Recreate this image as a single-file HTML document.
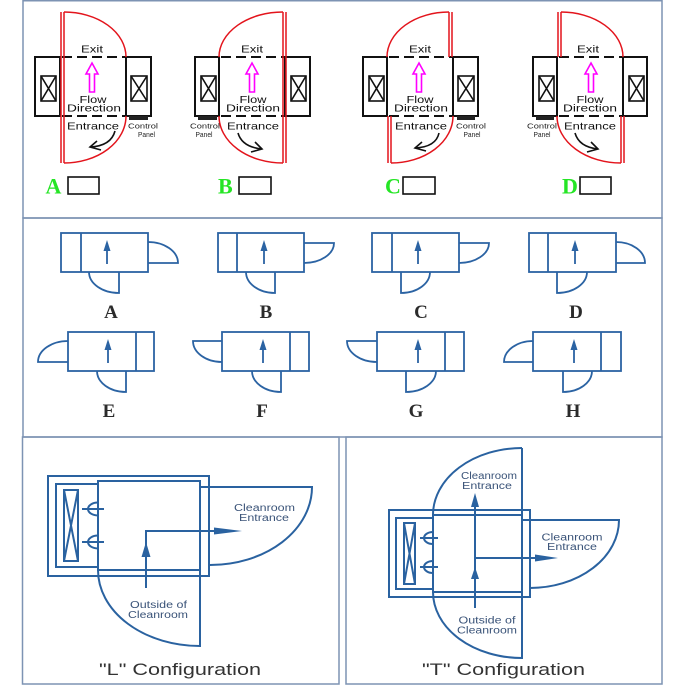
<!DOCTYPE html>
<html><head><meta charset="utf-8"><style>
html,body{margin:0;padding:0;background:#fff;}
svg{display:block;}
.ft{font-family:"Liberation Sans",sans-serif;}
</style></head><body>
<svg width="685" height="685" viewBox="0 0 685 685" xmlns="http://www.w3.org/2000/svg">
<rect x="0" y="0" width="685" height="685" fill="#fff"/>
<!-- panel borders -->
<g fill="none" stroke="#7d93b3" stroke-width="1.5">
<rect x="23" y="0.75" width="639" height="217.25"/>
<rect x="23" y="218" width="639" height="219"/>
<rect x="22.5" y="437" width="316.5" height="247"/>
<rect x="346" y="437" width="316" height="247"/>
</g>

<!-- ================= TOP PANEL ================= -->
<g fill="none" stroke="#111" stroke-width="2">
<!-- A -->
<rect x="35" y="57" width="25" height="59"/><rect x="126" y="57" width="25" height="59"/>
<!-- B -->
<rect x="195" y="57" width="24" height="59"/><rect x="285" y="57" width="25" height="59"/>
<!-- C -->
<rect x="363" y="57" width="24" height="59"/><rect x="453" y="57" width="25" height="59"/>
<!-- D -->
<rect x="533" y="57" width="24" height="59"/><rect x="623" y="57" width="24" height="59"/>
</g>
<g fill="none" stroke="#111" stroke-width="1.6">
<!-- X boxes -->
<rect x="41" y="76" width="15" height="25"/><path d="M41,76L56,101M56,76L41,101"/>
<rect x="131" y="76" width="16" height="25"/><path d="M131,76L147,101M147,76L131,101"/>
<rect x="201" y="76" width="15" height="25"/><path d="M201,76L216,101M216,76L201,101"/>
<rect x="291" y="76" width="15" height="25"/><path d="M291,76L306,101M306,76L291,101"/>
<rect x="369" y="76" width="15" height="25"/><path d="M369,76L384,101M384,76L369,101"/>
<rect x="458" y="76" width="16" height="25"/><path d="M458,76L474,101M474,76L458,101"/>
<rect x="539" y="76" width="15" height="25"/><path d="M539,76L554,101M554,76L539,101"/>
<rect x="629" y="76" width="15" height="25"/><path d="M629,76L644,101M644,76L629,101"/>
</g>
<g fill="none" stroke="#111" stroke-width="2" stroke-dasharray="10,5">
<path d="M62,57H126M62,116H126"/>
<path d="M221,57H285M221,116H285"/>
<path d="M389,57H453M389,116H453"/>
<path d="M559,57H623M559,116H623"/>
</g>
<!-- red doors -->
<g fill="none" stroke="#e3141c" stroke-width="1.5">
<!-- A -->
<path d="M61,12V163M64,12V163"/>
<path d="M64,12A62,45 0 0 1 126,57"/>
<path d="M126,116A62,47 0 0 1 64,163"/>
<!-- B -->
<path d="M283,12V163M286,12V163"/>
<path d="M283,12A64,45 0 0 0 219,57"/>
<path d="M219,116A64,47 0 0 0 283,163"/>
<!-- C -->
<path d="M449,12V57M452,12V57"/>
<path d="M449,12A62,45 0 0 0 387,57"/>
<path d="M388,116V163M391,116V163"/>
<path d="M453,116A62,47 0 0 1 391,163"/>
<!-- D -->
<path d="M558,12V57M561,12V57"/>
<path d="M561,12A62,45 0 0 1 623,57"/>
<path d="M621,116V163M624,116V163"/>
<path d="M557,116A64,47 0 0 0 621,163"/>
</g>
<!-- control panels -->
<g fill="#222">
<rect x="129" y="116" width="19" height="4"/>
<rect x="198" y="116" width="19" height="4"/>
<rect x="457" y="116" width="18" height="4"/>
<rect x="536" y="116" width="18" height="4"/>
</g>
<!-- magenta arrows -->
<g fill="#fff" stroke="#ff00ff" stroke-width="1.6">
<path d="M92,63L98,74H94.5V92H89.5V74H86Z"/>
<path d="M252,63L258,74H254.5V92H249.5V74H246Z"/>
<path d="M419,63L425,74H421.5V92H416.5V74H413Z"/>
<path d="M591,63L597,74H593.5V92H588.5V74H585Z"/>
</g>
<!-- curved arrows -->
<g fill="none" stroke="#111" stroke-width="1.6">
<path d="M115,131Q111,146 90,147M97,141L90,147L101,150"/>
<path d="M238,133Q242,147 262,149M255,142L262,149L251,152"/>
<path d="M439,133Q436,147 415,148M422,142L415,148L426,151"/>
<path d="M575,133Q579,147 598,149M591,142L598,149L587,152"/>
</g>
<!-- top texts -->
<g class="ft" fill="#111" font-size="10.5" text-anchor="middle">
<text x="92" y="52.5" textLength="22" lengthAdjust="spacingAndGlyphs">Exit</text>
<text x="93" y="103" textLength="27" lengthAdjust="spacingAndGlyphs">Flow</text>
<text x="94" y="111.5" textLength="54" lengthAdjust="spacingAndGlyphs">Direction</text>
<text x="93" y="129.5" textLength="52" lengthAdjust="spacingAndGlyphs">Entrance</text>

<text x="252" y="52.5" textLength="22" lengthAdjust="spacingAndGlyphs">Exit</text>
<text x="253" y="103" textLength="27" lengthAdjust="spacingAndGlyphs">Flow</text>
<text x="253" y="111.5" textLength="54" lengthAdjust="spacingAndGlyphs">Direction</text>
<text x="253" y="129.5" textLength="52" lengthAdjust="spacingAndGlyphs">Entrance</text>

<text x="420" y="52.5" textLength="22" lengthAdjust="spacingAndGlyphs">Exit</text>
<text x="420" y="103" textLength="27" lengthAdjust="spacingAndGlyphs">Flow</text>
<text x="421" y="111.5" textLength="54" lengthAdjust="spacingAndGlyphs">Direction</text>
<text x="421" y="129.5" textLength="52" lengthAdjust="spacingAndGlyphs">Entrance</text>

<text x="588" y="52.5" textLength="22" lengthAdjust="spacingAndGlyphs">Exit</text>
<text x="590" y="103" textLength="27" lengthAdjust="spacingAndGlyphs">Flow</text>
<text x="590" y="111.5" textLength="54" lengthAdjust="spacingAndGlyphs">Direction</text>
<text x="590" y="129.5" textLength="52" lengthAdjust="spacingAndGlyphs">Entrance</text>
</g>
<g class="ft" fill="#222" font-size="7.5" text-anchor="middle">
<text x="143" y="128.5" textLength="30" lengthAdjust="spacingAndGlyphs">Control</text>
<text x="146.5" y="137" textLength="17" lengthAdjust="spacingAndGlyphs">Panel</text>
<text x="205" y="128.5" textLength="30" lengthAdjust="spacingAndGlyphs">Control</text>
<text x="204" y="137" textLength="17" lengthAdjust="spacingAndGlyphs">Panel</text>
<text x="471" y="128.5" textLength="30" lengthAdjust="spacingAndGlyphs">Control</text>
<text x="472" y="137" textLength="17" lengthAdjust="spacingAndGlyphs">Panel</text>
<text x="542" y="128.5" textLength="30" lengthAdjust="spacingAndGlyphs">Control</text>
<text x="542" y="137" textLength="17" lengthAdjust="spacingAndGlyphs">Panel</text>
</g>
<!-- green labels -->
<g font-family="Liberation Serif,serif" font-weight="bold" font-size="22" fill="#25e525">
<text x="45.5" y="193.5">A</text>
<text x="218" y="193.5">B</text>
<text x="385" y="193.5">C</text>
<text x="562" y="193.5">D</text>
</g>
<g fill="#fff" stroke="#111" stroke-width="1.6">
<rect x="68" y="177" width="31" height="17"/>
<rect x="239" y="177" width="32" height="17"/>
<rect x="403" y="177" width="32" height="17"/>
<rect x="580" y="177" width="31" height="17"/>
</g>

<!-- ================= MIDDLE PANEL ================= -->
<g fill="none" stroke="#2b63a3" stroke-width="1.8">
<!-- A -->
<rect x="61" y="233" width="87" height="39"/><path d="M81,233V272"/>
<path d="M107,264V250"/>
<path d="M148,242A30,21 0 0 1 178,263H148"/>
<path d="M89,272A30,21 0 0 0 119,293V272"/>
<!-- B -->
<rect x="218" y="233" width="86" height="39"/><path d="M237,233V272"/>
<path d="M264,264V250"/>
<path d="M304,243H334A30,20 0 0 1 304,263"/>
<path d="M246,272A29,21 0 0 0 275,293V272"/>
<!-- C -->
<rect x="372" y="233" width="87" height="39"/><path d="M392,233V272"/>
<path d="M418,264V250"/>
<path d="M459,243H489A30,20 0 0 1 459,263"/>
<path d="M430,272A29,21 0 0 1 401,293V272"/>
<!-- D -->
<rect x="529" y="233" width="87" height="39"/><path d="M548,233V272"/>
<path d="M575,264V250"/>
<path d="M616,242A29,21 0 0 1 645,263H616"/>
<path d="M587,272A30,21 0 0 1 557,293V272"/>
<!-- E -->
<rect x="68" y="332" width="86" height="39"/><path d="M136,332V371"/>
<path d="M108,363V349"/>
<path d="M68,341A30,21 0 0 0 38,362H68"/>
<path d="M97,371A29,21 0 0 0 126,392V371"/>
<!-- F -->
<rect x="222" y="332" width="87" height="39"/><path d="M290,332V371"/>
<path d="M263,363V349"/>
<path d="M222,341H193A29,21 0 0 0 222,362"/>
<path d="M252,371A29,21 0 0 0 281,392V371"/>
<!-- G -->
<rect x="377" y="332" width="87" height="39"/><path d="M445,332V371"/>
<path d="M418,363V349"/>
<path d="M377,341H347A30,21 0 0 0 377,362"/>
<path d="M436,371A30,21 0 0 1 406,392V371"/>
<!-- H -->
<rect x="533" y="332" width="88" height="39"/><path d="M601,332V371"/>
<path d="M574,363V349"/>
<path d="M533,341A29,21 0 0 0 504,362H533"/>
<path d="M592,371A29,21 0 0 1 563,392V371"/>
</g>
<g fill="#2b63a3">
<path d="M107,240L103.5,251H110.5Z"/>
<path d="M264,240L260.5,251H267.5Z"/>
<path d="M418,240L414.5,251H421.5Z"/>
<path d="M575,240L571.5,251H578.5Z"/>
<path d="M108,339L104.5,350H111.5Z"/>
<path d="M263,339L259.5,350H266.5Z"/>
<path d="M418,339L414.5,350H421.5Z"/>
<path d="M574,339L570.5,350H577.5Z"/>
</g>
<g font-family="Liberation Serif,serif" font-weight="bold" font-size="19" fill="#2b2b2b" text-anchor="middle">
<text x="111" y="318">A</text>
<text x="266" y="318">B</text>
<text x="421" y="318">C</text>
<text x="576" y="318">D</text>
<text x="109" y="417">E</text>
<text x="262" y="417">F</text>
<text x="416" y="417">G</text>
<text x="573" y="417">H</text>
</g>

<!-- ================= L CONFIGURATION ================= -->
<g fill="none" stroke="#2a62a0" stroke-width="2">
<rect x="48" y="476" width="161" height="100"/>
<rect x="56" y="484" width="42" height="83"/>
<rect x="98" y="481" width="102" height="89"/>
<rect x="64" y="490" width="14" height="71"/>
<path d="M64,490L78,561M78,490L64,561"/>
<path d="M98,502.5A10,6.5 0 0 0 98,515.5M82,509H104"/>
<path d="M98,535.5A10,6.5 0 0 0 98,548.5M82,542H104"/>
<path d="M200,487H312A102,78 0 0 1 210,565"/>
<path d="M98,570A102,76 0 0 0 200,646V570"/>
<path d="M146,588V531H216"/>
</g>
<g fill="#2a62a0">
<path d="M214,527.5L242,531L214,534.5Z"/>
<path d="M146,542L141.5,557H150.5Z"/>
</g>
<g class="ft" fill="#3a5378" font-size="10" text-anchor="middle">
<text x="264.5" y="511" textLength="61" lengthAdjust="spacingAndGlyphs">Cleanroom</text>
<text x="264" y="521" textLength="50" lengthAdjust="spacingAndGlyphs">Entrance</text>
<text x="158.5" y="608" textLength="57" lengthAdjust="spacingAndGlyphs">Outside of</text>
<text x="158" y="618" textLength="60" lengthAdjust="spacingAndGlyphs">Cleanroom</text>
</g>
<text class="ft" x="180" y="675" font-size="17" fill="#333" text-anchor="middle" textLength="162" lengthAdjust="spacingAndGlyphs">"L" Configuration</text>

<!-- ================= T CONFIGURATION ================= -->
<g fill="none" stroke="#2a62a0" stroke-width="2">
<rect x="389" y="510" width="141" height="87"/>
<rect x="396" y="518" width="37" height="71"/>
<rect x="433" y="515" width="89" height="77"/>
<rect x="404" y="523" width="11" height="61"/>
<path d="M404,523L415,584M415,523L404,584"/>
<path d="M433,532A9,6 0 0 0 433,544M420,538H438"/>
<path d="M433,561A9,6 0 0 0 433,573M420,567H438"/>
<path d="M522,448A89,67 0 0 0 433,515"/>
<path d="M433,592A89,66 0 0 0 522,658V448"/>
<path d="M522,520H619A89,68 0 0 1 530,588"/>
<path d="M475,608V500"/>
<path d="M475,558H537"/>
</g>
<g fill="#2a62a0">
<path d="M475,493L471,507H479Z"/>
<path d="M475,567L471,579H479Z"/>
<path d="M535,554.5L558,558L535,561.5Z"/>
</g>
<g class="ft" fill="#3a5378" font-size="10" text-anchor="middle">
<text x="489" y="479" textLength="56" lengthAdjust="spacingAndGlyphs">Cleanroom</text>
<text x="487" y="489" textLength="50" lengthAdjust="spacingAndGlyphs">Entrance</text>
<text x="572" y="540.5" textLength="61" lengthAdjust="spacingAndGlyphs">Cleanroom</text>
<text x="572" y="550" textLength="50" lengthAdjust="spacingAndGlyphs">Entrance</text>
<text x="487" y="623.5" textLength="57" lengthAdjust="spacingAndGlyphs">Outside of</text>
<text x="487" y="633.5" textLength="60" lengthAdjust="spacingAndGlyphs">Cleanroom</text>
</g>
<text class="ft" x="503.5" y="675" font-size="17" fill="#333" text-anchor="middle" textLength="163" lengthAdjust="spacingAndGlyphs">"T" Configuration</text>
</svg>
</body></html>
